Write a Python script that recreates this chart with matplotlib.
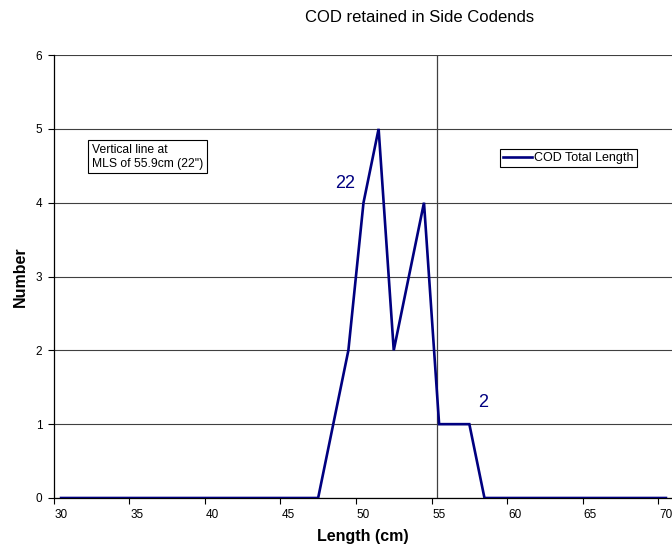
import numpy as np
from matplotlib import pyplot as plt

plt.rcParams['font.family'] = ['Liberation Sans', 'DejaVu Sans']

lengths = list(range(30, 71))
counts = [0] * 18 + [1, 2, 4, 5, 2, 3, 4, 1, 1, 1] + [0] * 13
tick_labels = [str(v) for v in range(30, 71, 5)]
mls_line = 54.86
below_total = "22"
above_total = "2"

navy = '#000080'

fig = plt.figure(figsize=(6.72, 5.54), dpi=100)
ax = fig.add_axes([53.5 / 672, 1 - 498 / 554, 620 / 672, 443 / 554])

ax.plot(lengths, counts, color=navy, linewidth=1.9, label='COD Total Length',
        zorder=5, solid_joinstyle='miter')
ax.axvline(mls_line, color='#404040', linewidth=0.9, zorder=3)

ax.set_xlim(29.5, 70.5)
ax.set_ylim(0, 6)

# category axis: tick marks at the boundaries, labels centred on categories
ax.set_xticks(np.arange(29.5, 70, 5))
ax.set_xticklabels([])
ax.set_xticks(range(30, 71, 5), minor=True)
ax.set_xticklabels(tick_labels, minor=True, fontsize=8.5)
ax.tick_params(axis='x', which='major', length=4, width=0.8)
ax.tick_params(axis='x', which='minor', length=0, pad=8)

ax.set_yticks(range(0, 7))
ax.tick_params(axis='y', length=4, width=0.8, labelsize=8.5, pad=4)
ax.yaxis.grid(True, color='#404040', linewidth=0.8)
ax.set_axisbelow(True)

for side in ['top', 'right']:
    ax.spines[side].set_visible(False)
ax.spines['left'].set_linewidth(0.9)
ax.spines['bottom'].set_linewidth(0.9)

ax.text(48.77, 4.26, below_total, color=navy, fontsize=13, ha='center', va='center')
ax.text(57.9, 1.30, above_total, color=navy, fontsize=13, ha='center', va='center')

fig.text(92 / 672, 1 - 144 / 554, 'Vertical line at\nMLS of 55.9cm (22")',
         fontsize=8.7, ha='left', va='top', linespacing=1.2,
         bbox=dict(boxstyle='square,pad=0.3', facecolor='white', edgecolor='black', linewidth=0.8))

leg = ax.legend(loc='upper left', bbox_to_anchor=(500 / 672, 1 - 149 / 554),
                bbox_transform=fig.transFigure, borderaxespad=0, fancybox=False,
                edgecolor='black', framealpha=1, fontsize=9, handlelength=2.3,
                handletextpad=0.2, borderpad=0.25)
leg.get_frame().set_linewidth(0.8)

fig.text(420 / 672, 1 - 18 / 554, 'COD retained in Side Codends', fontsize=12,
         ha='center', va='center')
fig.text(363 / 672, 1 - 537 / 554, 'Length (cm)', fontsize=11.5, fontweight='bold',
         ha='center', va='center')
fig.text(20 / 672, 1 - 277 / 554, 'Number', fontsize=11.5, fontweight='bold',
         ha='center', va='center', rotation=90)

fig.savefig('out.png', dpi=100)
